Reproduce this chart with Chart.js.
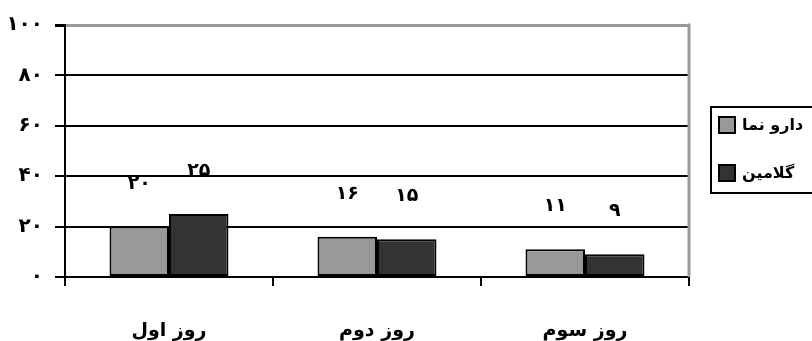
<!DOCTYPE html>
<html>
<head>
<meta charset="utf-8">
<script src="https://cdn.jsdelivr.net/npm/chart.js@4"></script>
<style>
  html, body { margin: 0; padding: 0; background: #fff; }
  canvas { display: block; }
</style>
</head>
<body>
<canvas id="c" width="812" height="341"></canvas>
<script>
// Days of the trial and the two groups' results
const categories = ['روز اول', 'روز دوم', 'روز سوم'];
const seriesNames = ['دارو نما', 'گلامین'];
const placeboValues = [20, 16, 11];
const glaminValues = [25, 15, 9];
const yTicks = [0, 20, 40, 60, 80, 100];

const FONT = '"DejaVu Sans", sans-serif';
const faDigits = '۰۱۲۳۴۵۶۷۸۹';
const toFa = n => String(n).replace(/\d/g, d => faDigits[+d]);

// Value labels floating above each bar
const barLabels = {
  id: 'barLabels',
  afterDatasetsDraw(chart) {
    const ctx = chart.ctx;
    ctx.save();
    ctx.font = 'bold 19px ' + FONT;
    ctx.fillStyle = '#000';
    ctx.textAlign = 'center';
    ctx.textBaseline = 'middle';
    chart.data.datasets.forEach((ds, i) => {
      chart.getDatasetMeta(i).data.forEach((bar, j) => {
        ctx.fillText(toFa(ds.data[j]), bar.x, bar.y - 43);
      });
    });
    ctx.restore();
  }
};

// Grey frame on the right side of the plot, and the boxed legend
const frameAndLegend = {
  id: 'frameAndLegend',
  afterDraw(chart) {
    const ctx = chart.ctx;
    const a = chart.chartArea;
    ctx.save();
    ctx.strokeStyle = '#999';
    ctx.lineWidth = 3;
    ctx.beginPath();
    ctx.moveTo(a.right, a.top - 1.5);
    ctx.lineTo(a.right, a.bottom);
    ctx.stroke();

    // legend box
    const bx = 711, by = 107, bw = 110, bh = 86;
    ctx.strokeStyle = '#000';
    ctx.lineWidth = 2;
    ctx.strokeRect(bx, by, bw, bh);
    ctx.font = 'bold 16px ' + FONT;
    ctx.textAlign = 'left';
    ctx.textBaseline = 'middle';
    chart.data.datasets.forEach((ds, i) => {
      const cy = by + 18 + i * 48;
      ctx.fillStyle = ds.backgroundColor;
      ctx.fillRect(719, cy - 8, 16, 16);
      ctx.strokeStyle = '#000';
      ctx.lineWidth = 2;
      ctx.strokeRect(719, cy - 8, 16, 16);
      ctx.fillStyle = '#000';
      ctx.fillText(ds.label, 742, cy + 1);
    });
    ctx.restore();
  }
};

new Chart(document.getElementById('c'), {
  type: 'bar',
  data: {
    labels: categories,
    datasets: [
      { label: seriesNames[0], data: placeboValues, backgroundColor: '#999999',
        borderColor: '#000', borderWidth: 2, borderSkipped: false },
      { label: seriesNames[1], data: glaminValues, backgroundColor: '#333333',
        borderColor: '#000', borderWidth: 2, borderSkipped: false }
    ]
  },
  options: {
    responsive: false,
    animation: false,
    devicePixelRatio: 1,
    layout: { padding: { top: 25, right: 123, bottom: 0, left: 0 } },
    datasets: { bar: { barPercentage: 1, categoryPercentage: 0.572 } },
    plugins: { legend: { display: false }, tooltip: { enabled: false } },
    scales: {
      x: {
        offset: true,
        grid: { display: true, drawOnChartArea: false, drawTicks: true,
                tickLength: 9, tickColor: '#000', lineWidth: 2, offset: true },
        border: { display: true, color: '#000', width: 2 },
        ticks: { color: '#000', padding: 34, font: { family: FONT, size: 19, weight: 'bold' } },
        afterFit(scale) { scale.height = 64; }
      },
      y: {
        min: 0,
        max: 100,
        afterBuildTicks(scale) { scale.ticks = yTicks.map(v => ({ value: v })); },
        grid: {
          color: c => (c.tick && c.tick.value === 100 ? '#999' : '#000'),
          lineWidth: c => (c.tick && c.tick.value === 100 ? 3 : 2),
          tickColor: '#000',
          tickLength: 10
        },
        border: { display: true, color: '#000', width: 2 },
        ticks: { color: '#000', padding: 12, callback: v => toFa(v),
                 font: { family: FONT, size: 20, weight: 'bold' } },
        afterFit(scale) { scale.width = 65; }
      }
    }
  },
  plugins: [barLabels, frameAndLegend]
});
</script>
</body>
</html>
